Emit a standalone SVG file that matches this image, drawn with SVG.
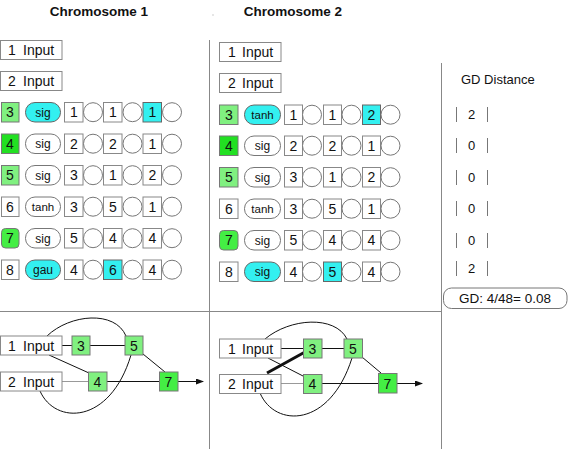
<svg xmlns="http://www.w3.org/2000/svg" width="575" height="449" viewBox="0 0 575 449">
<style>
text{font-family:"Liberation Sans",Arial,sans-serif;fill:#111}
.t{font-size:14px}
.c{text-anchor:middle}
.title{font-size:13.5px;font-weight:bold;text-anchor:middle}
.box{fill:#fff;stroke:#888;stroke-width:1}
.cy{fill:#33f0f0;stroke:#666;stroke-width:1}
.lg{fill:#80f080;stroke:#777;stroke-width:1}
.dg{fill:#22e022;stroke:#777;stroke-width:1}
.mg{fill:#44ee44;stroke:#777;stroke-width:1}
.circ{fill:#fff;stroke:#777;stroke-width:1}
.pill{fill:#fff;stroke:#777;stroke-width:1}
.pc{fill:#33f0f0;stroke:#666;stroke-width:1}
.lab{font-size:12px;text-anchor:middle}
.div{stroke:#888;stroke-width:1;fill:none}
.e{stroke:#111;stroke-width:1;fill:none}
.eg{stroke:#999;stroke-width:1;fill:none}
.bar{stroke:#777;stroke-width:1}
</style>
<defs>
<marker id="ah" markerWidth="8" markerHeight="6" refX="7" refY="3" orient="auto" markerUnits="userSpaceOnUse">
<path d="M0,0 L8,3 L0,6 Z" fill="#111"/>
</marker>
</defs>

<g id="dividers">
<line class="div" x1="209.5" y1="40" x2="209.5" y2="449"/>
<line class="div" x1="441.5" y1="63" x2="441.5" y2="449"/>
<line class="div" x1="0" y1="311.5" x2="441.5" y2="311.5"/>
<circle cx="213" cy="15" r="0.7" fill="#bbb"/>
</g>

<text class="title" x="99" y="16">Chromosome 1</text>
<text class="title" x="293" y="16">Chromosome 2</text>

<g id="c1-in1"><rect class="box" x="0.5" y="40.5" width="61.5" height="19"/><text class="t"><tspan x="8" y="55">1</tspan><tspan x="23" y="55">Input</tspan></text></g>
<g id="c1-in2"><rect class="box" x="0.5" y="71.5" width="61.5" height="19"/><text class="t"><tspan x="8" y="86">2</tspan><tspan x="23" y="86">Input</tspan></text></g>

<g id="c1-r3">
<rect class="lg" x="1.5" y="102.5" width="17.5" height="19.5"/><text class="t c" x="10" y="117">3</text>
<rect class="pc" x="25.5" y="102.5" width="35" height="19.5" rx="9.5"/><text class="lab" x="43" y="116.5">sig</text>
<rect class="box" x="64.5" y="102.5" width="18.5" height="19.5"/><text class="t c" x="74" y="117">1</text>
<circle class="circ" cx="93" cy="112.2" r="9.5"/>
<rect class="box" x="103.5" y="102.5" width="18.5" height="19.5"/><text class="t c" x="113" y="117">1</text>
<circle class="circ" cx="132.5" cy="112.2" r="9.5"/>
<rect class="cy" x="143" y="102.5" width="18.5" height="19.5"/><text class="t c" x="152.5" y="117">1</text>
<circle class="circ" cx="172" cy="112.2" r="9.5"/>
</g>
<g id="c1-r4">
<rect class="dg" x="1.5" y="134" width="17.5" height="19.5"/><text class="t c" x="10" y="148.5">4</text>
<rect class="pill" x="25.5" y="134" width="35" height="19.5" rx="9.5"/><text class="lab" x="43" y="148">sig</text>
<rect class="box" x="64.5" y="134" width="18.5" height="19.5"/><text class="t c" x="74" y="148.5">2</text>
<circle class="circ" cx="93" cy="143.7" r="9.5"/>
<rect class="box" x="103.5" y="134" width="18.5" height="19.5"/><text class="t c" x="113" y="148.5">2</text>
<circle class="circ" cx="132.5" cy="143.7" r="9.5"/>
<rect class="box" x="143" y="134" width="18.5" height="19.5"/><text class="t c" x="152.5" y="148.5">1</text>
<circle class="circ" cx="172" cy="143.7" r="9.5"/>
</g>
<g id="c1-r5">
<rect class="lg" x="1.5" y="165.5" width="17.5" height="19.5"/><text class="t c" x="10" y="180">5</text>
<rect class="pill" x="25.5" y="165.5" width="35" height="19.5" rx="9.5"/><text class="lab" x="43" y="179.5">sig</text>
<rect class="box" x="64.5" y="165.5" width="18.5" height="19.5"/><text class="t c" x="74" y="180">3</text>
<circle class="circ" cx="93" cy="175.2" r="9.5"/>
<rect class="box" x="103.5" y="165.5" width="18.5" height="19.5"/><text class="t c" x="113" y="180">1</text>
<circle class="circ" cx="132.5" cy="175.2" r="9.5"/>
<rect class="box" x="143" y="165.5" width="18.5" height="19.5"/><text class="t c" x="152.5" y="180">2</text>
<circle class="circ" cx="172" cy="175.2" r="9.5"/>
</g>
<g id="c1-r6">
<rect class="box" x="1.5" y="197" width="17.5" height="19.5"/><text class="t c" x="10" y="211.5">6</text>
<rect class="pill" x="25.5" y="197" width="35" height="19.5" rx="9.5"/><text class="lab" x="43" y="211" style="font-size:11.5px">tanh</text>
<rect class="box" x="64.5" y="197" width="18.5" height="19.5"/><text class="t c" x="74" y="211.5">3</text>
<circle class="circ" cx="93" cy="206.7" r="9.5"/>
<rect class="box" x="103.5" y="197" width="18.5" height="19.5"/><text class="t c" x="113" y="211.5">5</text>
<circle class="circ" cx="132.5" cy="206.7" r="9.5"/>
<rect class="box" x="143" y="197" width="18.5" height="19.5"/><text class="t c" x="152.5" y="211.5">1</text>
<circle class="circ" cx="172" cy="206.7" r="9.5"/>
</g>
<g id="c1-r7">
<rect class="mg" x="1.5" y="228.5" width="17.5" height="19.5" rx="4"/><text class="t c" x="10" y="243">7</text>
<rect class="pill" x="25.5" y="228.5" width="35" height="19.5" rx="9.5"/><text class="lab" x="43" y="242.5">sig</text>
<rect class="box" x="64.5" y="228.5" width="18.5" height="19.5"/><text class="t c" x="74" y="243">5</text>
<circle class="circ" cx="93" cy="238.2" r="9.5"/>
<rect class="box" x="103.5" y="228.5" width="18.5" height="19.5"/><text class="t c" x="113" y="243">4</text>
<circle class="circ" cx="132.5" cy="238.2" r="9.5"/>
<rect class="box" x="143" y="228.5" width="18.5" height="19.5"/><text class="t c" x="152.5" y="243">4</text>
<circle class="circ" cx="172" cy="238.2" r="9.5"/>
</g>
<g id="c1-r8">
<rect class="box" x="1.5" y="260" width="17.5" height="19.5"/><text class="t c" x="10" y="274.5">8</text>
<rect class="pc" x="25.5" y="260" width="35" height="19.5" rx="9.5"/><text class="lab" x="43" y="274">gau</text>
<rect class="box" x="64.5" y="260" width="18.5" height="19.5"/><text class="t c" x="74" y="274.5">4</text>
<circle class="circ" cx="93" cy="269.7" r="9.5"/>
<rect class="cy" x="103.5" y="260" width="18.5" height="19.5"/><text class="t c" x="113" y="274.5">6</text>
<circle class="circ" cx="132.5" cy="269.7" r="9.5"/>
<rect class="box" x="143" y="260" width="18.5" height="19.5"/><text class="t c" x="152.5" y="274.5">4</text>
<circle class="circ" cx="172" cy="269.7" r="9.5"/>
</g>

<g id="c2-in1"><rect class="box" x="219.5" y="42.5" width="61.5" height="19"/><text class="t"><tspan x="228" y="57">1</tspan><tspan x="242" y="57">Input</tspan></text></g>
<g id="c2-in2"><rect class="box" x="219.5" y="73.5" width="61.5" height="19"/><text class="t"><tspan x="228" y="88">2</tspan><tspan x="242" y="88">Input</tspan></text></g>

<g id="c2-r3">
<rect class="lg" x="219.5" y="105" width="18.5" height="19.5"/><text class="t c" x="229" y="119.5">3</text>
<rect class="pc" x="244.5" y="105" width="36" height="19.5" rx="9.5"/><text class="lab" x="262.5" y="119" style="font-size:11.5px">tanh</text>
<rect class="box" x="284.5" y="105" width="18" height="19.5"/><text class="t c" x="293.5" y="119.5">1</text>
<circle class="circ" cx="312" cy="114.7" r="9.5"/>
<rect class="box" x="323.5" y="105" width="18" height="19.5"/><text class="t c" x="332.5" y="119.5">1</text>
<circle class="circ" cx="351.5" cy="114.7" r="9.5"/>
<rect class="cy" x="362.5" y="105" width="18" height="19.5"/><text class="t c" x="371.5" y="119.5">2</text>
<circle class="circ" cx="390.5" cy="114.7" r="9.5"/>
</g>
<g id="c2-r4">
<rect class="dg" x="219.5" y="136" width="18.5" height="19.5"/><text class="t c" x="229" y="150.5">4</text>
<rect class="pill" x="244.5" y="136" width="36" height="19.5" rx="9.5"/><text class="lab" x="262.5" y="150">sig</text>
<rect class="box" x="284.5" y="136" width="18" height="19.5"/><text class="t c" x="293.5" y="150.5">2</text>
<circle class="circ" cx="312" cy="145.7" r="9.5"/>
<rect class="box" x="323.5" y="136" width="18" height="19.5"/><text class="t c" x="332.5" y="150.5">2</text>
<circle class="circ" cx="351.5" cy="145.7" r="9.5"/>
<rect class="box" x="362.5" y="136" width="18" height="19.5"/><text class="t c" x="371.5" y="150.5">1</text>
<circle class="circ" cx="390.5" cy="145.7" r="9.5"/>
</g>
<g id="c2-r5">
<rect class="lg" x="219.5" y="167.5" width="18.5" height="19.5"/><text class="t c" x="229" y="182">5</text>
<rect class="pill" x="244.5" y="167.5" width="36" height="19.5" rx="9.5"/><text class="lab" x="262.5" y="181.5">sig</text>
<rect class="box" x="284.5" y="167.5" width="18" height="19.5"/><text class="t c" x="293.5" y="182">3</text>
<circle class="circ" cx="312" cy="177.2" r="9.5"/>
<rect class="box" x="323.5" y="167.5" width="18" height="19.5"/><text class="t c" x="332.5" y="182">1</text>
<circle class="circ" cx="351.5" cy="177.2" r="9.5"/>
<rect class="box" x="362.5" y="167.5" width="18" height="19.5"/><text class="t c" x="371.5" y="182">2</text>
<circle class="circ" cx="390.5" cy="177.2" r="9.5"/>
</g>
<g id="c2-r6">
<rect class="box" x="219.5" y="199" width="18.5" height="19.5"/><text class="t c" x="229" y="213.5">6</text>
<rect class="pill" x="244.5" y="199" width="36" height="19.5" rx="9.5"/><text class="lab" x="262.5" y="213" style="font-size:11.5px">tanh</text>
<rect class="box" x="284.5" y="199" width="18" height="19.5"/><text class="t c" x="293.5" y="213.5">3</text>
<circle class="circ" cx="312" cy="208.7" r="9.5"/>
<rect class="box" x="323.5" y="199" width="18" height="19.5"/><text class="t c" x="332.5" y="213.5">5</text>
<circle class="circ" cx="351.5" cy="208.7" r="9.5"/>
<rect class="box" x="362.5" y="199" width="18" height="19.5"/><text class="t c" x="371.5" y="213.5">1</text>
<circle class="circ" cx="390.5" cy="208.7" r="9.5"/>
</g>
<g id="c2-r7">
<rect class="mg" x="219.5" y="230.5" width="18.5" height="19.5" rx="4"/><text class="t c" x="229" y="245">7</text>
<rect class="pill" x="244.5" y="230.5" width="36" height="19.5" rx="9.5"/><text class="lab" x="262.5" y="244.5">sig</text>
<rect class="box" x="284.5" y="230.5" width="18" height="19.5"/><text class="t c" x="293.5" y="245">5</text>
<circle class="circ" cx="312" cy="240.2" r="9.5"/>
<rect class="box" x="323.5" y="230.5" width="18" height="19.5"/><text class="t c" x="332.5" y="245">4</text>
<circle class="circ" cx="351.5" cy="240.2" r="9.5"/>
<rect class="box" x="362.5" y="230.5" width="18" height="19.5"/><text class="t c" x="371.5" y="245">4</text>
<circle class="circ" cx="390.5" cy="240.2" r="9.5"/>
</g>
<g id="c2-r8">
<rect class="box" x="219.5" y="262" width="18.5" height="19.5"/><text class="t c" x="229" y="276.5">8</text>
<rect class="pc" x="244.5" y="262" width="36" height="19.5" rx="9.5"/><text class="lab" x="262.5" y="276">sig</text>
<rect class="box" x="284.5" y="262" width="18" height="19.5"/><text class="t c" x="293.5" y="276.5">4</text>
<circle class="circ" cx="312" cy="271.7" r="9.5"/>
<rect class="cy" x="323.5" y="262" width="18" height="19.5"/><text class="t c" x="332.5" y="276.5">5</text>
<circle class="circ" cx="351.5" cy="271.7" r="9.5"/>
<rect class="box" x="362.5" y="262" width="18" height="19.5"/><text class="t c" x="371.5" y="276.5">4</text>
<circle class="circ" cx="390.5" cy="271.7" r="9.5"/>
</g>

<g id="gd">
<text x="461" y="84" style="font-size:13px">GD Distance</text>
<g class="bar">
<line x1="456.5" y1="107" x2="456.5" y2="122"/><line x1="487.5" y1="107" x2="487.5" y2="122"/>
<line x1="456.5" y1="138" x2="456.5" y2="153"/><line x1="487.5" y1="138" x2="487.5" y2="153"/>
<line x1="456.5" y1="170" x2="456.5" y2="185"/><line x1="487.5" y1="170" x2="487.5" y2="185"/>
<line x1="456.5" y1="201" x2="456.5" y2="216"/><line x1="487.5" y1="201" x2="487.5" y2="216"/>
<line x1="456.5" y1="233" x2="456.5" y2="248"/><line x1="487.5" y1="233" x2="487.5" y2="248"/>
<line x1="456.5" y1="261" x2="456.5" y2="276"/><line x1="487.5" y1="261" x2="487.5" y2="276"/>
</g>
<text class="c" x="471.5" y="119" style="font-size:13px">2</text>
<text class="c" x="471.5" y="150" style="font-size:13px">0</text>
<text class="c" x="471.5" y="182" style="font-size:13px">0</text>
<text class="c" x="471.5" y="213" style="font-size:13px">0</text>
<text class="c" x="471.5" y="245" style="font-size:13px">0</text>
<text class="c" x="471.5" y="273" style="font-size:13px">2</text>
<rect x="443.5" y="288" width="123.5" height="20.5" rx="8" fill="#fff" stroke="#777"/>
<text class="c" x="505" y="303" style="font-size:13.5px">GD: 4/48= 0.08</text>
</g>

<g id="n1-edges">
<line class="e" x1="62" y1="345.5" x2="72" y2="345.5"/>
<line class="e" x1="90" y1="345.5" x2="125" y2="345.5"/>
<line class="e" x1="49" y1="355" x2="89" y2="373"/>
<line class="eg" x1="62" y1="381.5" x2="88" y2="381.5"/>
<line class="e" x1="107" y1="381.5" x2="159" y2="381.5"/>
<line class="e" x1="143" y1="354" x2="165" y2="372"/>
<path class="e" d="M47,336 C70,314 115,310 126,336"/>
<path class="e" d="M40,391 C55,425 110,425 131,355"/>
<line class="e" x1="178" y1="381.5" x2="203" y2="381.5" marker-end="url(#ah)"/>
</g>
<g id="n1-in1"><rect class="box" x="0.5" y="336" width="61.5" height="19"/><text class="t"><tspan x="8" y="350.5">1</tspan><tspan x="23" y="350.5">Input</tspan></text></g>
<g id="n1-in2"><rect class="box" x="0.5" y="372" width="61.5" height="19"/><text class="t"><tspan x="8" y="386.5">2</tspan><tspan x="23" y="386.5">Input</tspan></text></g>
<g id="n1-3"><rect class="lg" x="72" y="336" width="18" height="19"/><text class="t c" x="81" y="350.5">3</text></g>
<g id="n1-5"><rect class="lg" x="125" y="336" width="18" height="19"/><text class="t c" x="134" y="350.5">5</text></g>
<g id="n1-4"><rect class="lg" x="88.5" y="372" width="18.5" height="19"/><text class="t c" x="97.5" y="386.5">4</text></g>
<g id="n1-7"><rect class="mg" x="159.5" y="372" width="18.5" height="19"/><text class="t c" x="168.5" y="386.5">7</text></g>

<g id="n2-edges">
<line class="e" x1="281" y1="348.5" x2="303" y2="348.5"/>
<line class="e" x1="322" y1="348.5" x2="344" y2="348.5"/>
<line class="e" x1="268" y1="358" x2="303" y2="376"/>
<line class="eg" x1="281" y1="383.5" x2="303" y2="383.5"/>
<line class="e" x1="322" y1="383.5" x2="378" y2="383.5"/>
<line class="e" x1="362" y1="357" x2="381" y2="373"/>
<line x1="267" y1="373" x2="305" y2="352" stroke="#111" stroke-width="3"/>
<path class="e" d="M265,339 C290,318 335,315 347,339"/>
<path class="e" d="M260,393 C275,428 330,428 352,358"/>
<line class="e" x1="397" y1="383.5" x2="422" y2="383.5" marker-end="url(#ah)"/>
</g>
<g id="n2-in1"><rect class="box" x="219.5" y="339" width="61.5" height="19"/><text class="t"><tspan x="228" y="353.5">1</tspan><tspan x="242" y="353.5">Input</tspan></text></g>
<g id="n2-in2"><rect class="box" x="219.5" y="374.5" width="61.5" height="19"/><text class="t"><tspan x="228" y="389">2</tspan><tspan x="242" y="389">Input</tspan></text></g>
<g id="n2-3"><rect class="lg" x="303.5" y="339" width="18.5" height="19"/><text class="t c" x="312.5" y="353.5">3</text></g>
<g id="n2-5"><rect class="lg" x="344" y="339" width="18.5" height="19"/><text class="t c" x="353" y="353.5">5</text></g>
<g id="n2-4"><rect class="lg" x="303.5" y="374.5" width="18.5" height="19"/><text class="t c" x="312.5" y="389">4</text></g>
<g id="n2-7"><rect class="mg" x="378.5" y="373.5" width="18.5" height="19.5"/><text class="t c" x="387.5" y="388.5">7</text></g>
</svg>
